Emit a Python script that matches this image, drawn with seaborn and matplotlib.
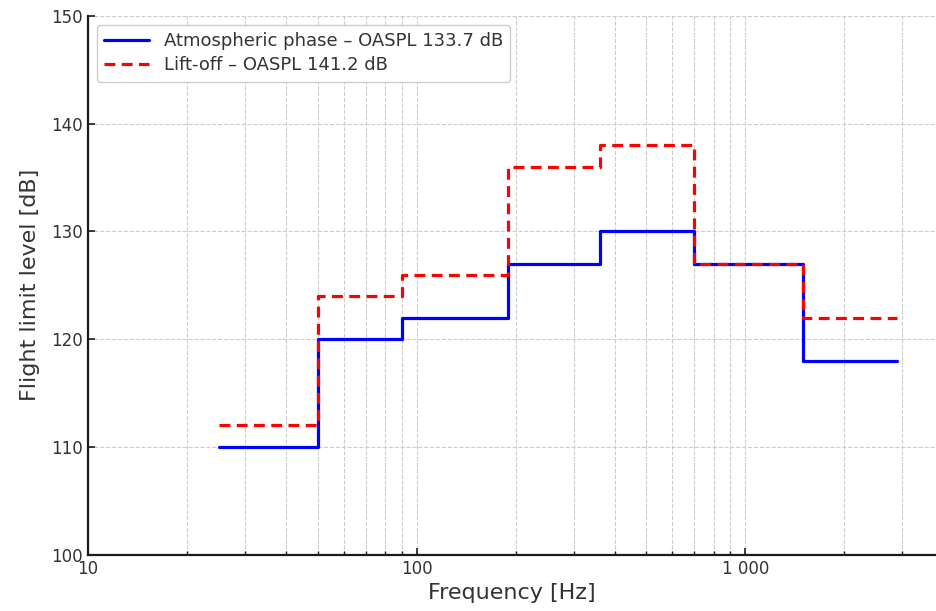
import matplotlib
matplotlib.use("Agg")
import matplotlib.pyplot as plt
import matplotlib.ticker as mticker
import seaborn as sns
import numpy as np
import pandas as pd

# band edges [Hz] (last value closes the final step)
band_edges = [25, 50, 90, 190, 360, 700, 1500, 2900]
atmospheric_db = [110, 120, 122, 127, 130, 127, 118]
liftoff_db = [112, 124, 126, 136, 138, 127, 122]

atmospheric_label = "Atmospheric phase – OASPL 133.7 dB"
liftoff_label = "Lift-off – OASPL 141.2 dB"


def _step_frame(edges, levels):
    # repeat the last level so the final step reaches the last edge
    return pd.DataFrame({"freq": edges, "level": list(levels) + [levels[-1]]})


sns.set_theme(style="whitegrid")
plt.rcParams["font.family"] = ["DejaVu Sans"]

fig = plt.figure(figsize=(9.36, 6.11), dpi=100)
ax = fig.add_axes([0.094, 0.092, 0.906, 0.882])

atm = _step_frame(band_edges, atmospheric_db)
lift = _step_frame(band_edges, liftoff_db)

sns.lineplot(data=atm, x="freq", y="level", ax=ax, color="#0000ff",
             linewidth=2.3, drawstyle="steps-post", estimator=None,
             sort=False, label=atmospheric_label)
sns.lineplot(data=lift, x="freq", y="level", ax=ax, color="#ff0000",
             linewidth=2.3, linestyle=(0, (3.4, 2.0)), drawstyle="steps-post",
             estimator=None, sort=False, label=liftoff_label)

ax.set_xscale("log")
ax.set_xlim(10, 3800)
ax.set_ylim(100, 150)
ax.set_yticks([100, 110, 120, 130, 140, 150])
ax.xaxis.set_major_locator(mticker.LogLocator(base=10))
ax.xaxis.set_minor_locator(mticker.LogLocator(base=10, subs=np.arange(2, 10)))
ax.xaxis.set_major_formatter(
    mticker.FuncFormatter(lambda v, p: f"{int(round(v)):,}".replace(",", " "))
)
ax.xaxis.set_minor_formatter(mticker.NullFormatter())

ax.grid(True, which="major", linestyle="--", color="#cccccc", linewidth=0.8)
ax.grid(True, which="minor", axis="x", linestyle="--", color="#cccccc", linewidth=0.8)

for side in ["top", "right"]:
    ax.spines[side].set_visible(False)
for side in ["left", "bottom"]:
    ax.spines[side].set_color("#1a1a1a")
    ax.spines[side].set_linewidth(1.6)

ax.tick_params(axis="both", which="both", direction="in", colors="#1a1a1a",
               labelcolor="#333333", bottom=True, left=True)
ax.tick_params(axis="both", which="major", length=5, width=1.2, labelsize=12)
ax.tick_params(axis="x", which="minor", length=3, width=1.0)

ax.set_xlabel("Frequency [Hz]", fontsize=16, color="#333333", labelpad=4)
ax.set_ylabel("Flight limit level [dB]", fontsize=16, color="#333333", labelpad=8)

leg = ax.legend(loc="upper left", fontsize=13, frameon=True, fancybox=True,
                framealpha=1.0, borderpad=0.4, labelspacing=0.35,
                handlelength=2.5)
leg.get_frame().set_edgecolor("#cccccc")
leg.get_frame().set_linewidth(1.0)
for t in leg.get_texts():
    t.set_color("#333333")

fig.savefig("out.png", dpi=100)
